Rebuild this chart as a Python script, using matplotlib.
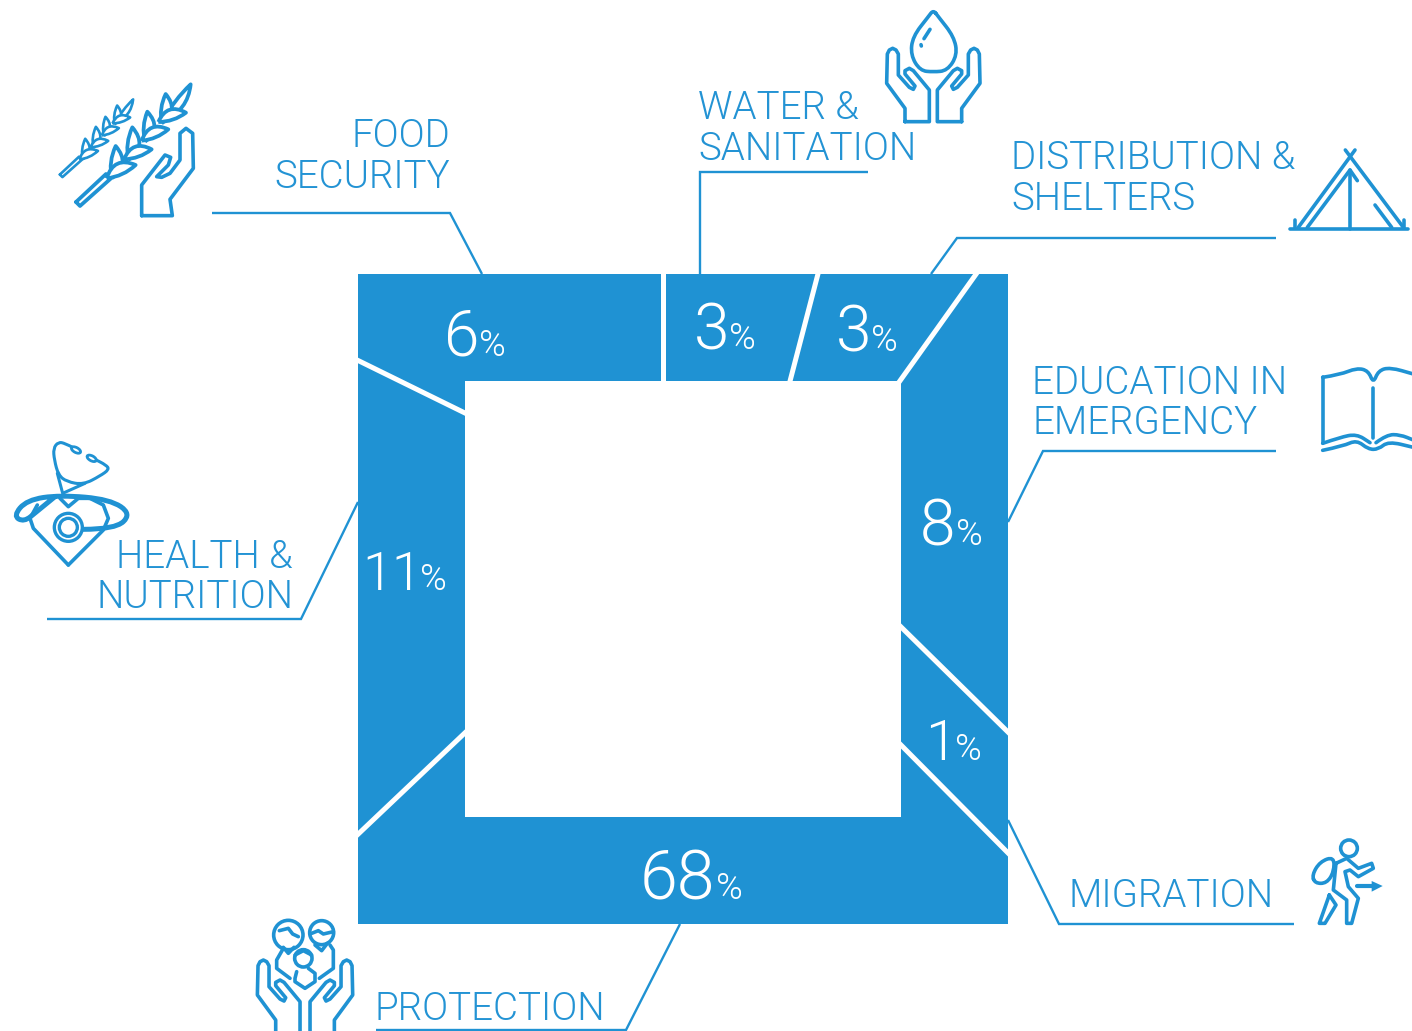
import matplotlib
matplotlib.use("Agg")
import matplotlib.pyplot as plt
from matplotlib.path import Path
from matplotlib.patches import PathPatch, Rectangle, Circle, Ellipse, Polygon

# funding share per sector, percent
sectors = ["FOOD\nSECURITY", "WATER &\nSANITATION", "DISTRIBUTION &\nSHELTERS",
           "EDUCATION IN\nEMERGENCY", "MIGRATION", "PROTECTION", "HEALTH &\nNUTRITION"]
shares = [6, 3, 3, 8, 1, 68, 11]

BLUE = "#1f92d3"
TEXT_BLUE = "#2393d4"
FONT = ["Roboto", "DejaVu Sans"]
LIGHT = 300

# all layout below is in image pixels
label_pos = [(450, 147, "right"), (698, 119, "left"), (1011, 169, "left"),
             (1032, 394, "left"), (1068, 907, "left"), (375, 1020, "left"), (293, 568, "right")]
value_pos = [(444, 356, 479, 64), (694, 349, 729, 64), (836, 351, 871, 64),
             (920, 545, 956, 64), (925, 760, 955, 56), (640, 899, 716, 68), (362, 590, 420, 54)]
leaders = [
    [(212, 213), (450, 213), (482, 274)],
    [(868, 172), (700, 172), (700, 274)],
    [(1276, 238), (957, 238), (931, 274)],
    [(1276, 451), (1043, 451), (1008, 522)],
    [(1294, 924), (1059, 924), (1008, 820)],
    [(376, 1030), (626, 1030), (680, 924)],
    [(47, 619), (301, 619), (358, 502)],
]
dividers = [
    [(663, 270), (663, 385)],
    [(819, 270), (789, 385)],
    [(979, 270), (897, 385)],
    [(897, 623), (1012, 736)],
    [(897, 741), (1012, 857)],
    [(353, 839), (469, 729)],
    [(353, 358), (469, 415)],
]

fig = plt.figure(figsize=(14.12, 10.31), dpi=100)
ax = fig.add_axes([0, 0, 1, 1])
ax.set_xlim(0, 1412)
ax.set_ylim(1031, 0)
ax.axis("off")


def stroke(pts, lw=2.6, closed=False, smooth=False, fc="none", ec=BLUE, z=5):
    # polyline, or a quadratic spline running through the segment midpoints
    pts = list(pts)
    if smooth:
        if closed:
            first = ((pts[-1][0] + pts[0][0]) / 2, (pts[-1][1] + pts[0][1]) / 2)
            verts, codes = [first], [Path.MOVETO]
            seq = pts + [pts[0]]
            for a, b in zip(seq[:-1], seq[1:]):
                verts += [a, ((a[0] + b[0]) / 2, (a[1] + b[1]) / 2)]
                codes += [Path.CURVE3, Path.CURVE3]
        else:
            verts, codes = [pts[0]], [Path.MOVETO]
            for a, b in zip(pts[1:-1], pts[2:]):
                verts += [a, ((a[0] + b[0]) / 2, (a[1] + b[1]) / 2)]
                codes += [Path.CURVE3, Path.CURVE3]
            verts.append(pts[-1])
            codes.append(Path.LINETO)
    else:
        verts = pts + ([pts[0]] if closed else [])
        codes = [Path.MOVETO] + [Path.LINETO] * (len(verts) - 1)
    ax.add_patch(PathPatch(Path(verts, codes), fc=fc, ec=ec, lw=lw, capstyle="round",
                           joinstyle="round", zorder=z))


def place(pts, ox, oy, s=1 / 3, mirror=None):
    out = []
    for x, y in pts:
        if mirror is not None:
            x = 2 * mirror - x
        out.append((ox + x * s, oy + y * s))
    return out


# frame
ax.add_patch(Rectangle((358, 274), 650, 650, fc=BLUE, ec="none", zorder=1))
for seg in dividers:
    ax.plot(*zip(*seg), color="white", lw=3.6, solid_capstyle="butt", zorder=2)
ax.add_patch(Rectangle((465, 381), 436, 436, fc="white", ec="none", zorder=3))
# trim divider overshoot outside the frame
ax.add_patch(Rectangle((340, 262), 686, 12, fc="white", ec="none", zorder=2.5))
ax.add_patch(Rectangle((1008, 262), 18, 680, fc="white", ec="none", zorder=2.5))
ax.add_patch(Rectangle((340, 262), 18, 680, fc="white", ec="none", zorder=2.5))

for seg in leaders:
    ax.plot(*zip(*seg), color=BLUE, lw=1.7, solid_joinstyle="miter", solid_capstyle="butt", zorder=4)

# sector names
for name, (x, y, ha) in zip(sectors, label_pos):
    for i, line in enumerate(name.split("\n")):
        ax.text(x, y + i * 40.5, line, color=TEXT_BLUE, fontsize=27.7, ha=ha, va="baseline",
                family=FONT, fontweight=LIGHT, zorder=6)

# percentages
for val, (x, y, px, size) in zip(shares, value_pos):
    ax.text(x, y, str(val), color="white", fontsize=size * 0.72, va="baseline",
            family=FONT, fontweight=LIGHT, zorder=6)
    ax.text(px, y, "%", color="white", fontsize=26, va="baseline",
            family=FONT, fontweight=LIGHT, zorder=6)

# open hand outline shared by the water and protection icons
hand = [(105, 365), (105, 325), (50, 250), (52, 162), (58, 150), (68, 145), (78, 150), (85, 162),
        (85, 225), (118, 262), (130, 268), (135, 258), (105, 222), (105, 212), (118, 205), (130, 212),
        (178, 270), (178, 365)]

# water: drop held by two hands
stroke(place(hand, 870, 0), closed=True)
stroke(place(hand, 870, 0, mirror=190), closed=True)
drop = [(190, 30), (175, 50), (128, 110), (122, 165), (150, 212), (190, 216), (232, 212), (262, 165),
        (252, 110), (205, 50)]
stroke(place(drop, 870, 0), closed=True, smooth=True)
stroke(place([(180, 88), (162, 116)], 870, 0))
stroke(place([(153, 134), (154, 138)], 870, 0))


def grain(base, tip, width, lw, s, ox, oy):
    # one wheat grain: a leaf shape bulging to the side given by the sign of width
    mx, my = (base[0] + tip[0]) / 2, (base[1] + tip[1]) / 2
    dx, dy = tip[0] - base[0], tip[1] - base[1]
    c1 = (mx - dy * width, my + dx * width)
    c2 = (mx + dy * width * 0.3, my - dx * width * 0.3)
    verts = [(ox + x * s, oy + y * s) for x, y in (base, c1, tip, c2, base)]
    codes = [Path.MOVETO, Path.CURVE3, Path.CURVE3, Path.CURVE3, Path.CURVE3]
    ax.add_patch(PathPatch(Path(verts, codes), fc="white", ec=BLUE, lw=lw, joinstyle="round", zorder=5))


# grain base and tip along one ear, lowest first
ear_left = [((335, 325), (347, 228)), ((385, 270), (397, 172)), ((435, 215), (442, 125)), ((485, 160), (497, 72))]
ear_right = [((320, 325), (407, 285)), ((372, 268), (455, 238)), ((425, 212), (505, 178)), ((475, 156), (558, 128))]
ear_tip = ((490, 152), (572, 43))
ear_stem = [(228, 396), (240, 408), (332, 326), (318, 312)]

# food: two wheat ears and a hand, grains painted from the tip down
for s, ox, oy, lw in [(0.213, 11.3, 90.2, 1.9), (1 / 3, 0, 70, 2.7)]:
    verts = [(ox + x * s, oy + y * s) for x, y in ear_stem]
    stroke(verts, lw=lw, closed=True)
    grain(ear_tip[0], ear_tip[1], 0.3, lw, s, ox, oy)
    for left, right in zip(ear_left[::-1], ear_right[::-1]):
        grain(left[0], left[1], 0.55, lw, s, ox, oy)
        grain(right[0], right[1], -0.55, lw, s, ox, oy)
food_hand = [(425, 437), (425, 345), (495, 255), (512, 262), (505, 285), (470, 320), (485, 322), (510, 310),
             (540, 270), (540, 190), (558, 175), (578, 190), (580, 295), (510, 388), (517, 437)]
stroke(place(food_hand, 0, 70), closed=True, fc="white", z=5.5)

# tent
tent = [
    [(60, 268), (415, 268)],
    [(226, 30), (400, 262)],
    [(255, 30), (85, 262)],
    [(112, 262), (240, 90), (262, 122)],
    [(240, 90), (240, 268)],
    [(315, 195), (365, 262)],
    [(75, 240), (75, 265)],
    [(403, 240), (403, 265)],
]
for seg in tent:
    stroke(place(seg, 1270, 140))

# book
book = [
    [(68, 52), (120, 44), (170, 24), (205, 32), (220, 70), (235, 32), (270, 22), (340, 42)],
    [(68, 250), (120, 232), (170, 222), (210, 248)],
    [(228, 248), (260, 224), (300, 224), (340, 240)],
    [(68, 271), (130, 258), (170, 240), (205, 268), (235, 268), (265, 244), (340, 262)],
]
for seg in book:
    stroke(place(seg, 1300, 360), smooth=True)
stroke(place([(220, 85), (220, 235)], 1300, 360))
stroke(place([(68, 250), (68, 52)], 1300, 360))

# health: heart and stethoscope
stroke(place([(205, 405), (100, 295), (90, 265), (112, 225)], 0, 430))
stroke(place([(205, 405), (310, 300), (325, 265), (310, 225), (270, 205), (235, 205), (205, 230),
              (180, 205)], 0, 430))
tube = [(218, 52), (195, 40), (175, 36), (160, 55), (163, 90), (175, 135), (200, 155), (250, 164), (300, 138),
        (328, 118), (318, 105), (285, 88)]
stroke(place(tube, 0, 430), lw=2.2, smooth=True)
stroke(place([(172, 130), (188, 190), (255, 160)], 0, 430), lw=2.2)
loop = [(250, 298), (345, 298), (395, 252), (330, 208), (180, 195), (80, 210), (40, 258), (72, 276),
        (110, 245), (165, 200)]
stroke(place(loop, 0, 430), lw=3.6, smooth=True)
for cx, cy in [(228, 60), (275, 85)]:
    ax.add_patch(Ellipse((cx / 3, 430 + cy / 3), 10, 5, angle=28, fc="white", ec=BLUE, lw=2, zorder=6))
for r in (42, 27):
    ax.add_patch(Circle((205 / 3, 430 + 292 / 3), r / 3, fc="white", ec=BLUE, lw=2.4, zorder=6))

# migration: walking figure with backpack and arrow
ax.add_patch(Circle((1300 + 147 / 3, 830 + 55 / 3), 25 / 3, fc="none", ec=BLUE, lw=2.6, zorder=5))
stroke(place([(36, 135), (60, 95), (102, 80), (102, 125), (80, 160), (45, 160)], 1300, 830), closed=True, smooth=True)
stroke(place([(108, 100), (140, 85), (175, 115), (215, 100), (220, 115), (175, 140), (150, 120), (135, 125),
              (145, 170), (175, 205), (155, 280), (140, 280), (140, 210), (100, 180)], 1300, 830), closed=True)
stroke(place([(88, 195), (108, 225), (75, 280), (58, 280)], 1300, 830), closed=True)
stroke(place([(170, 168), (218, 168)], 1300, 830), lw=3)
ax.add_patch(Polygon(place([(215, 153), (248, 168), (215, 185)], 1300, 830), fc=BLUE, ec="none", zorder=5))

# protection: family inside two hands
stroke(place(hand, 240.7, 911.7), closed=True)
stroke(place(hand, 240.7, 911.7, mirror=193), closed=True)
ax.add_patch(Circle((240 + 145 / 3, 910 + 75 / 3), 44 / 3, fc="none", ec=BLUE, lw=2.6, zorder=5))
ax.add_patch(Circle((240 + 245 / 3, 910 + 68 / 3), 36 / 3, fc="none", ec=BLUE, lw=2.6, zorder=5))
ax.add_patch(Circle((240 + 190 / 3, 910 + 145 / 3), 26 / 3, fc="white", ec=BLUE, lw=2.6, zorder=6))
family = [
    [(130, 115), (110, 150), (110, 175), (150, 205)],
    [(130, 112), (145, 130), (162, 112)],
    [(118, 62), (145, 55), (158, 72), (175, 80)],
    [(210, 72), (235, 62), (250, 72), (280, 65)],
    [(225, 105), (245, 122), (262, 100)],
    [(270, 105), (280, 120), (280, 175), (238, 205)],
    [(170, 185), (165, 205), (165, 215), (195, 235), (225, 215), (225, 190), (205, 175)],
    [(165, 135), (190, 122), (215, 135)],
]
for seg in family:
    stroke(place(seg, 240, 910), z=7)

fig.savefig("out.png", dpi=100, facecolor="white")
